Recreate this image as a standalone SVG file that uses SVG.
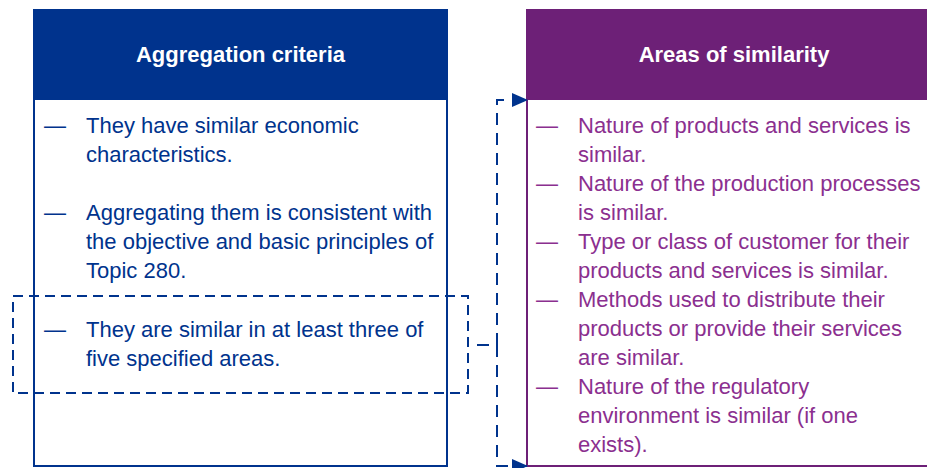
<svg xmlns="http://www.w3.org/2000/svg" width="927" height="468" viewBox="0 0 927 468">
<style>
.t{font-family:"Liberation Sans",Arial,sans-serif;font-size:22px}
.h{font-family:"Liberation Sans",Arial,sans-serif;font-size:22px;font-weight:bold;fill:#fff;text-anchor:middle}
.b{fill:#00338D}
.p{fill:#8B2F8F}
.dash{fill:none;stroke:#00338D;stroke-width:2;stroke-dasharray:10 6}
.con{fill:none;stroke:#00338D;stroke-width:2;stroke-dasharray:12 8}
</style>
<defs>
<marker id="arr" markerWidth="16" markerHeight="14" refX="15" refY="7" orient="auto" markerUnits="userSpaceOnUse">
<path d="M0,0 L16,7 L0,14 Z" fill="#00338D"/>
</marker>
</defs>
<rect width="927" height="468" fill="#fff"/>
<g id="aggregation-criteria">
<rect x="34" y="10" width="413" height="456" fill="#fff" stroke="#00338D" stroke-width="2"/>
<rect x="34" y="10" width="413" height="90" fill="#00338D"/>
<text class="h" x="240.5" y="62">Aggregation criteria</text>
<g class="t b">
<text x="44" y="133">—</text>
<text x="86" y="133">They have similar economic</text>
<text x="86" y="162">characteristics.</text>
<text x="44" y="220">—</text>
<text x="86" y="220">Aggregating them is consistent with</text>
<text x="86" y="249">the objective and basic principles of</text>
<text x="86" y="278">Topic 280.</text>
<text x="44" y="337">—</text>
<text x="86" y="337">They are similar in at least three of</text>
<text x="86" y="366">five specified areas.</text>
</g>
</g>
<g id="three-of-five-highlight">
<rect class="dash" x="13" y="296" width="455" height="97"/>
</g>
<g id="areas-of-similarity">
<rect x="527" y="10" width="414" height="456" fill="#fff" stroke="#6D2077" stroke-width="2"/>
<rect x="527" y="10" width="414" height="90" fill="#6D2077"/>
<text class="h" x="734" y="62">Areas of similarity</text>
<g class="t p">
<text x="536" y="133">—</text>
<text x="578" y="133">Nature of products and services is</text>
<text x="578" y="162">similar.</text>
<text x="536" y="191">—</text>
<text x="578" y="191">Nature of the production processes</text>
<text x="578" y="220">is similar.</text>
<text x="536" y="249">—</text>
<text x="578" y="249">Type or class of customer for their</text>
<text x="578" y="278">products and services is similar.</text>
<text x="536" y="307">—</text>
<text x="578" y="307">Methods used to distribute their</text>
<text x="578" y="336">products or provide their services</text>
<text x="578" y="365">are similar.</text>
<text x="536" y="394">—</text>
<text x="578" y="394">Nature of the regulatory</text>
<text x="578" y="423">environment is similar (if one</text>
<text x="578" y="452">exists).</text>
</g>
</g>
<g id="connectors">
<path class="con" d="M477,345 H490"/>
<path class="con" d="M497,345 V100 H527" marker-end="url(#arr)"/>
<path class="con" d="M497,345 V466 H527" marker-end="url(#arr)"/>
</g>
</svg>
